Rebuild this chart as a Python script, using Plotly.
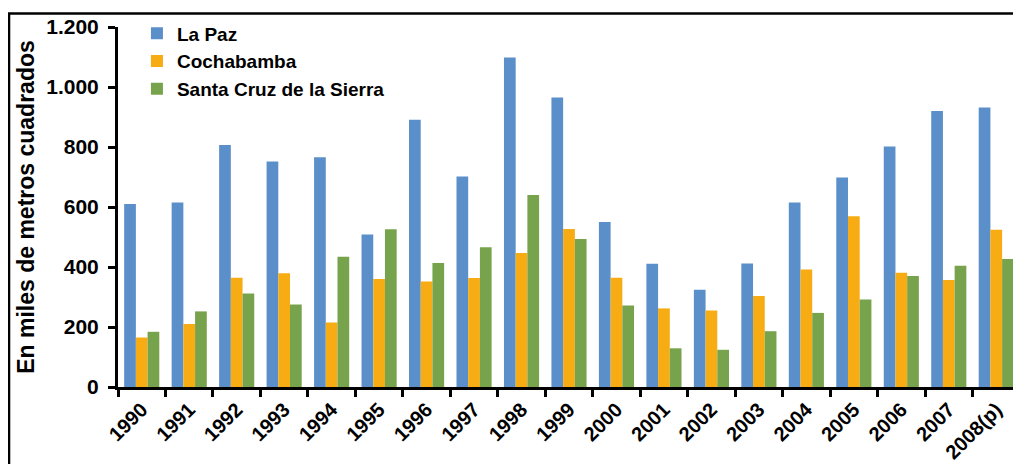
import plotly.graph_objects as go

years = ["1990", "1991", "1992", "1993", "1994", "1995", "1996", "1997", "1998", "1999",
         "2000", "2001", "2002", "2003", "2004", "2005", "2006", "2007", "2008(p)"]
la_paz = [610, 615, 807, 752, 766, 508, 891, 702, 1098, 965,
          550, 411, 324, 412, 615, 698, 802, 920, 932]
cochabamba = [165, 210, 364, 379, 215, 360, 352, 363, 447, 527,
              364, 262, 255, 303, 392, 569, 381, 357, 524]
santa_cruz = [184, 252, 312, 275, 434, 526, 413, 466, 640, 493,
              272, 129, 124, 186, 247, 292, 370, 404, 427]
y_tick_vals = [0, 200, 400, 600, 800, 1000, 1200]
y_tick_text = ["0", "200", "400", "600", "800", "1.000", "1.200"]

FONT = "Liberation Sans, Arial, sans-serif"

fig = go.Figure()
fig.add_trace(go.Bar(name="La Paz", x=years, y=la_paz, marker=dict(color="#5b8fc9", line=dict(width=0))))
fig.add_trace(go.Bar(name="Cochabamba", x=years, y=cochabamba, marker=dict(color="#f6ac12", line=dict(width=0))))
fig.add_trace(go.Bar(name="Santa Cruz de la Sierra", x=years, y=santa_cruz, marker=dict(color="#78a34d", line=dict(width=0))))

# page body has an 8px margin: figure is sized/shifted to compensate
fig.update_layout(
    width=1013, height=456,
    margin=dict(l=110, r=1, t=19, b=77, autoexpand=False),
    paper_bgcolor="white", plot_bgcolor="white",
    barmode="group", bargap=0.26, bargroupgap=0,
    font=dict(family=FONT, color="black"),
    legend=dict(x=0.021, y=1.035, xanchor="left", yanchor="top",
                font=dict(family=FONT, size=19, color="black", weight="bold"),
                bgcolor="rgba(0,0,0,0)", tracegroupgap=0, itemwidth=30),
    showlegend=True,
)
fig.update_xaxes(
    type="category", showgrid=False, zeroline=False, automargin=False,
    showline=True, linecolor="black", linewidth=3,
    ticks="outside", tickson="boundaries", ticklen=7, tickwidth=2.5, tickcolor="black",
    tickangle=-45, tickfont=dict(family=FONT, size=20, color="black", weight="bold"),
)
fig.update_yaxes(
    range=[0, 1200], showgrid=False, zeroline=False, automargin=False,
    showline=True, linecolor="black", linewidth=3,
    ticks="outside", ticklen=7, tickwidth=2.5, tickcolor="black",
    ticklabelstandoff=5,
    tickvals=y_tick_vals, ticktext=y_tick_text,
    tickfont=dict(family=FONT, size=21, color="black", weight="bold"),
    title=dict(text="En miles de metros cuadrados", standoff=6,
               font=dict(family=FONT, size=23, color="black", weight="bold")),
)
fig.add_shape(type="rect", xref="paper", yref="paper",
              x0=-0.1208, x1=1.02, y0=-0.3, y1=1.0375,
              line=dict(color="black", width=2.5), fillcolor="rgba(0,0,0,0)", layer="above")

fig.write_html("out.html")
